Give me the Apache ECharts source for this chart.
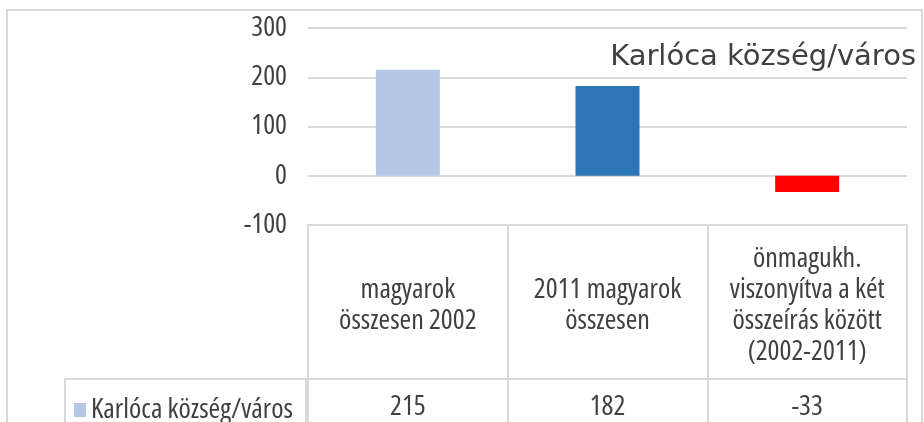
<!DOCTYPE html>
<html>
<head>
<meta charset="utf-8">
<script src="https://cdn.jsdelivr.net/npm/echarts@6/dist/echarts.min.js"></script>
<style>
html,body{margin:0;padding:0;background:#fff}
#main{width:924px;height:422px}
</style>
</head>
<body>
<div id="main"></div>
<script>
// adatok
var categories = ['magyarok\nösszesen 2002', '2011 magyarok\nösszesen', 'önmagukh.\nviszonyítva a két\nösszeírás között\n(2002-2011)'];
var seriesName = 'Karlóca község/város';
var values = [215, 182, -33];
var barColors = ['#B4C7E7', '#2E75B6', '#FF0000'];
var yMin = -100, yMax = 300, yStep = 100;

var gridGray = '#D9D9D9';
var textGray = '#404040';
// keskeny betű: Open Sans szűkített szélességgel (font-stretch)
var narrowText = { fontStyle: 'condensed', fontFamily: "'Open Sans', sans-serif", fontSize: 28, color: textGray };

var myChart = echarts.init(document.getElementById('main'));
myChart.setOption({
    animation: false,
    title: {
        text: seriesName,
        right: 8,
        top: 43,
        padding: 0,
        textStyle: { fontFamily: 'DejaVu Sans', fontSize: 29, fontWeight: 'normal', color: textGray }
    },
    legend: {
        data: [seriesName],
        left: 65,
        top: 379,
        padding: [17, 13, 40, 9],
        borderColor: gridGray,
        borderWidth: 2,
        icon: 'rect',
        itemWidth: 12,
        itemHeight: 14,
        textStyle: narrowText
    },
    grid: { left: 308, right: 17, top: 28, bottom: 197 },
    xAxis: [
        {
            type: 'category',
            data: categories,
            position: 'bottom',
            axisLine: { onZero: false, lineStyle: { color: gridGray, width: 2 } },
            axisTick: { show: true, interval: 0, length: 200, lineStyle: { color: gridGray, width: 2 } },
            axisLabel: Object.assign({
                interval: 0,
                margin: 81,
                verticalAlign: 'middle',
                lineHeight: 31
            }, narrowText)
        },
        {
            type: 'category',
            data: categories,
            position: 'bottom',
            offset: 154,
            axisLine: { onZero: false, lineStyle: { color: gridGray, width: 2 } },
            axisTick: { show: true, interval: 0, length: 200, lineStyle: { color: gridGray, width: 2 } },
            axisLabel: Object.assign({
                interval: 0,
                margin: 28,
                verticalAlign: 'middle',
                formatter: function (v, i) { return String(values[i]); }
            }, narrowText)
        }
    ],
    yAxis: {
        type: 'value',
        min: yMin,
        max: yMax,
        interval: yStep,
        axisLine: { show: false },
        axisTick: { show: false },
        splitLine: { lineStyle: { color: gridGray, width: 2 } },
        axisLabel: Object.assign({ margin: 21 }, narrowText)
    },
    series: [
        {
            name: seriesName,
            type: 'bar',
            barWidth: 64,
            itemStyle: { color: barColors[0] },
            data: values.map(function (v, i) {
                return { value: v, itemStyle: { color: barColors[i] } };
            })
        }
    ],
    graphic: [
        {
            type: 'rect',
            silent: true,
            shape: { x: 7, y: 10, width: 915, height: 420 },
            style: { fill: 'none', stroke: gridGray, lineWidth: 2 }
        }
    ]
});
</script>
</body>
</html>
